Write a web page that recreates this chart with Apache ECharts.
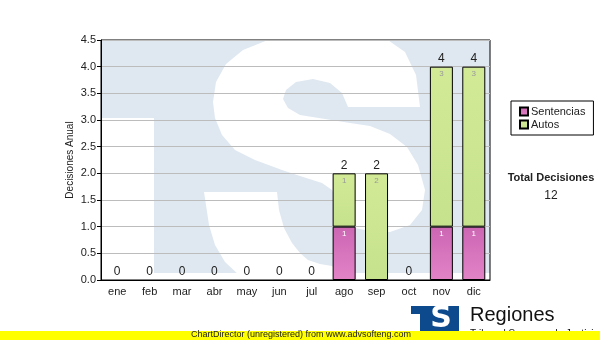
<!DOCTYPE html>
<html><head><meta charset="utf-8">
<script src="https://cdn.jsdelivr.net/npm/echarts@6/dist/echarts.min.js"></script>
<style>html,body{margin:0;padding:0;background:#fff}#c{width:600px;height:340px}</style>
</head><body><div id="c"></div>
<script>
var categories = ['ene','feb','mar','abr','may','jun','jul','ago','sep','oct','nov','dic'];
var sentencias = [0,0,0,0,0,0,0,1,0,0,1,1];
var autos = [0,0,0,0,0,0,0,1,2,0,3,3];
var totals = [0,0,0,0,0,0,0,2,2,0,4,4];
var yTicks = ['0.0','0.5','1.0','1.5','2.0','2.5','3.0','3.5','4.0','4.5'];
var totalDecisiones = 12;

var F = 'Liberation Sans, Arial, sans-serif';
var chart = echarts.init(document.getElementById('c'), null, {renderer:'canvas'});
function nz(arr){ return arr.map(function(v){ return v === 0 ? '-' : v; }); }

// watermark logo outline (decorative)
var sUpper = [[213,102],[216,82],[226,64],[243,50],[268,40],[300,30],[350,30],[385,38],[405,52],[416,75],[420,107],[348,107],[342,93],[330,83],[313,79],[296,82],[286,90],[283,99],[288,108],[300,115],[325,119],[350,123],[370,126],[390,134],[407,147],[418,165],[425,190],[422,210],[410,225],[390,232],[370,231],[355,228],[345,210],[332,190],[322,183],[300,176],[282,170],[255,160],[235,150],[222,135],[215,118]];
var sLower = [[204,192],[277,192],[279,210],[284,228],[292,243],[300,253],[308,260],[320,264],[332,266],[345,276],[240,276],[225,262],[215,245],[209,225],[206,205]];

chart.setOption({
  animation:false,
  backgroundColor:'#fff',
  grid:{left:101, top:40, right:110, bottom:60, show:true, borderColor:'#000', borderWidth:1, backgroundColor:'transparent'},
  legend:{
    data:['Sentencias','Autos'], orient:'vertical', left:511, top:101,
    padding:[5,8,5,8], itemGap:2, itemWidth:8, itemHeight:8,
    borderColor:'#000', borderWidth:1, borderRadius:0,
    textStyle:{fontFamily:F, fontSize:11, color:'#222', padding:[0,0,0,-2]},
    selectedMode:false, icon:'rect'
  },
  xAxis:{
    type:'category', data:categories,
    axisLine:{lineStyle:{color:'#000', width:1}},
    axisTick:{alignWithLabel:true, length:4, lineStyle:{color:'#000'}},
    axisLabel:{fontFamily:F, fontSize:11, color:'#222', margin:6},
    splitLine:{show:false}
  },
  yAxis:{
    type:'value', min:0, max:4.5, interval:0.5,
    name:'Decisiones Anual', nameLocation:'middle', nameGap:26, nameRotate:90, nameMoveOverlap:false,
    nameTextStyle:{fontFamily:F, fontSize:10, color:'#222'},
    axisLine:{show:true, lineStyle:{color:'#000', width:1}},
    axisTick:{show:true, length:4, lineStyle:{color:'#000'}},
    axisLabel:{fontFamily:F, fontSize:11, color:'#222', margin:5,
      formatter:function(v){ return yTicks[Math.round(v*2)]; }},
    splitLine:{show:true, lineStyle:{color:'#bcbcbc', width:1}}
  },
  series:[
    {name:'Sentencias', type:'bar', stack:'a', barWidth:23, data:nz(sentencias),
     itemStyle:{color:new echarts.graphic.LinearGradient(0,0,0,1,[{offset:0,color:'#cc66b4'},{offset:1,color:'#e283c6'}]), borderColor:'#000', borderWidth:1},
     label:{show:true, position:'insideTop', distance:3, fontFamily:F, fontSize:8, color:'#fff'}},
    {name:'Autos', type:'bar', stack:'a', barWidth:23, data:nz(autos),
     itemStyle:{color:new echarts.graphic.LinearGradient(0,0,0,1,[{offset:0,color:'#d2ea96'},{offset:1,color:'#c6e28c'}]), borderColor:'#000', borderWidth:1},
     label:{show:true, position:'insideTop', distance:3, fontFamily:F, fontSize:8, color:'#999'}},
    {name:'Total', type:'bar', stack:'a', barWidth:23, data:totals.map(function(){return 0;}),
     itemStyle:{color:'rgba(0,0,0,0)', borderWidth:0},
     label:{show:true, position:'top', distance:2, fontFamily:F, fontSize:12, color:'#222',
       formatter:function(p){ return String(totals[p.dataIndex]); }}}
  ],
  graphic:[
    {type:'rect', z:-10, silent:true, shape:{x:101,y:40,width:389,height:233}, style:{fill:'#dfe8f1'}},
    {type:'rect', z:-9, silent:true, shape:{x:101,y:118,width:53,height:162}, style:{fill:'#fff'}},
    {type:'rect', z:-9, silent:true, shape:{x:101,y:273,width:389,height:7}, style:{fill:'#fff'}},
    {type:'polygon', z:-8, silent:true, shape:{points:sUpper, smooth:0}, style:{fill:'#fff'}},
    {type:'polygon', z:-8, silent:true, shape:{points:sLower, smooth:0}, style:{fill:'#fff'}},
    {type:'rect', z:-7, silent:true, shape:{x:0,y:0,width:600,height:40}, style:{fill:'#fff'}},
    {type:'text', x:551, y:172, style:{text:'Total Decisiones', font:'bold 11px '+F, fill:'#222', align:'center'}},
    {type:'text', x:551, y:190, style:{text:String(totalDecisiones), font:'12px '+F, fill:'#222', align:'center'}},
    {type:'rect', shape:{x:411,y:306,width:48,height:25}, style:{fill:'#0c4a8d'}},
    {type:'rect', shape:{x:411,y:314,width:9,height:17}, style:{fill:'#fff'}},
    {type:'text', x:441, y:319, style:{text:'S', font:'bold 30px DejaVu Sans', fill:'#fff', align:'center', verticalAlign:'middle'}},
    {type:'text', x:470, y:305, style:{text:'Regiones', font:'20px '+F, fill:'#111'}},
    {type:'text', x:470, y:329, style:{text:'Tribunal Supremo de Justicia', font:'10px '+F, fill:'#111'}},
    {type:'rect', z:50, shape:{x:0,y:331,width:600,height:9}, style:{fill:'#ffff00'}},
    {type:'text', z:51, x:191, y:330, style:{text:'ChartDirector (unregistered) from www.advsofteng.com', font:'9px '+F, fill:'#222'}}
  ]
});
</script></body></html>
